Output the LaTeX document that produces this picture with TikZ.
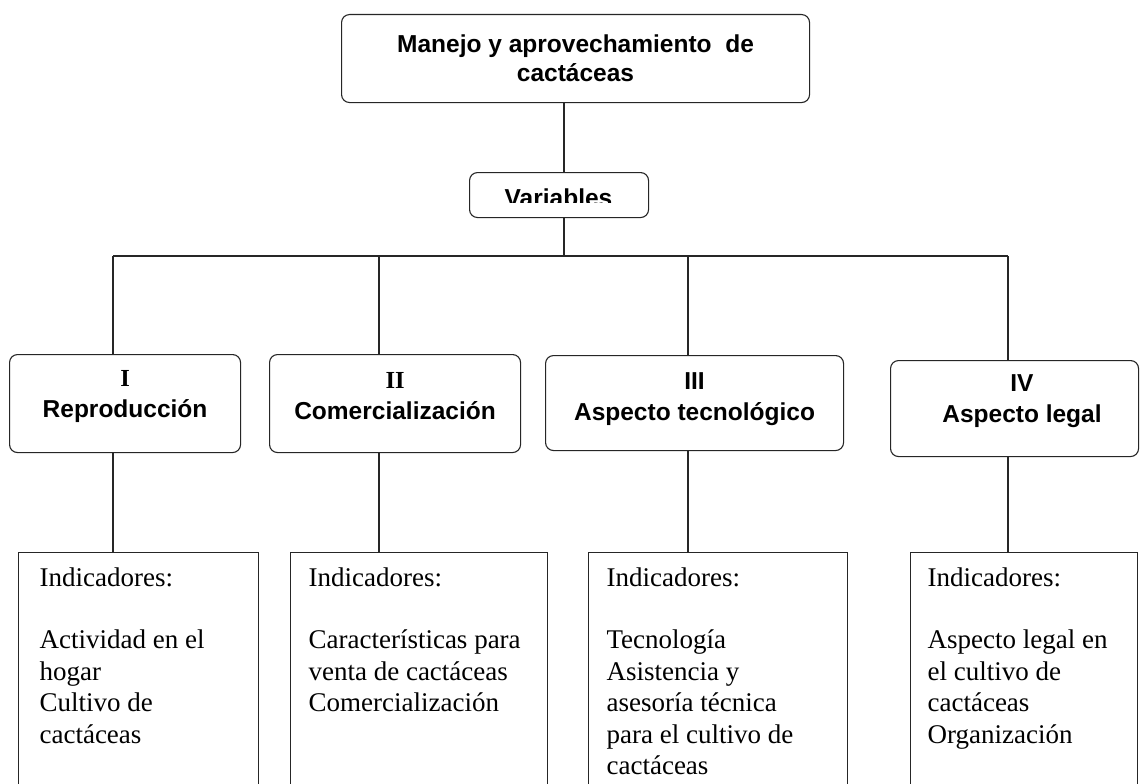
\documentclass[tikz,border=0pt]{standalone}
\usepackage{fontspec}
\setmainfont{Liberation Serif}
\setsansfont{Liberation Sans}
\begin{document}
\begin{tikzpicture}[x=1pt,y=-1pt,
  line width=1.1pt, draw=black!85,
  rbox/.style={draw=black!85, rounded corners=8pt, anchor=north west, inner sep=0pt},
  hfont/.style={font=\sffamily\bfseries\fontsize{24.5}{29}\selectfont, align=center},
  lvfont/.style={font=\sffamily\bfseries\fontsize{24.5}{31}\selectfont, align=center},
  indbox/.style={draw=black!85, anchor=north west, inner sep=0pt, minimum height=260pt},
  indtext/.style={font=\rmfamily\fontsize{27}{31.5}\selectfont, align=left, anchor=north west, inner sep=0pt}
]
\useasboundingbox (0,0) rectangle (1140,784);
\clip (0,0) rectangle (1140,784);
\fill[white] (0,0) rectangle (1140,784);

% top box
\node[rbox, minimum width=468pt, minimum height=88pt] (top) at (341,14) {};
\node[hfont, anchor=center] (toptext) at (top.center) {Manejo y aprovechamiento\ \ de\\cact\'aceas};

% variables
\begin{scope}
  \clip (469,150) rectangle (648,202);
  \node[font=\sffamily\bfseries\fontsize{24.5}{29}\selectfont, anchor=base, inner sep=0pt] (vartext) at (558.5,206) {Variables};
\end{scope}
\node[rbox, minimum width=179pt, minimum height=45pt] (var) at (469,172) {};

% level 2 boxes
\node[rbox, minimum width=231pt, minimum height=98pt] (n1) at (9,354) {};
\node[lvfont, yshift=7pt] (l1) at (n1.center) {{\rmfamily I}\\Reproducci\'on};
\node[rbox, minimum width=251pt, minimum height=98pt] (n2) at (269,354) {};
\node[lvfont, yshift=7pt] (l2) at (n2.center) {{\rmfamily II}\\Comercializaci\'on};
\node[rbox, minimum width=298pt, minimum height=95pt] (n3) at (545,355) {};
\node[lvfont, yshift=4pt] (l3) at (n3.center) {III\\Aspecto tecnol\'ogico};
\node[rbox, minimum width=248pt, minimum height=96pt] (n4) at (890,360) {};
\node[lvfont] (l4) at (1022,401) {IV\\Aspecto legal};

% indicator boxes
\node[indbox, minimum width=240pt] (b1) at (18,552) {};
\node[indtext] (t1) at ([shift={(21,15)}]b1.north west) {Indicadores:\\[31pt]Actividad en el\\hogar\\Cultivo de\\cact\'aceas};
\node[indbox, minimum width=257pt] (b2) at (290,552) {};
\node[indtext] (t2) at ([shift={(18,15)}]b2.north west) {Indicadores:\\[31pt]Caracter\'isticas para\\venta de cact\'aceas\\Comercializaci\'on};
\node[indbox, minimum width=259pt] (b3) at (588,552) {};
\node[indtext] (t3) at ([shift={(18,15)}]b3.north west) {Indicadores:\\[31pt]Tecnolog\'ia\\Asistencia y\\asesor\'ia t\'ecnica\\para el cultivo de\\cact\'aceas};
\node[indbox, minimum width=227pt] (b4) at (910,552) {};
\node[indtext] (t4) at ([shift={(17,15)}]b4.north west) {Indicadores:\\[31pt]Aspecto legal en\\el cultivo de\\cact\'aceas\\Organizaci\'on};

% connectors
\coordinate (bar) at (564,256);
\coordinate (c1) at (113,256);
\coordinate (c2) at (379,256);
\coordinate (c3) at (688,256);
\coordinate (c4) at (1008,256);
\draw (var.north -| bar) -- (top.south -| bar);
\draw (var.south -| bar) -- (bar);
\draw (c1) -- (c4);
\foreach \i in {1,2,3,4}{
  \draw (c\i) -- (c\i |- n\i.north);
  \draw (c\i |- n\i.south) -- (c\i |- b\i.north);
}
\end{tikzpicture}
\end{document}
